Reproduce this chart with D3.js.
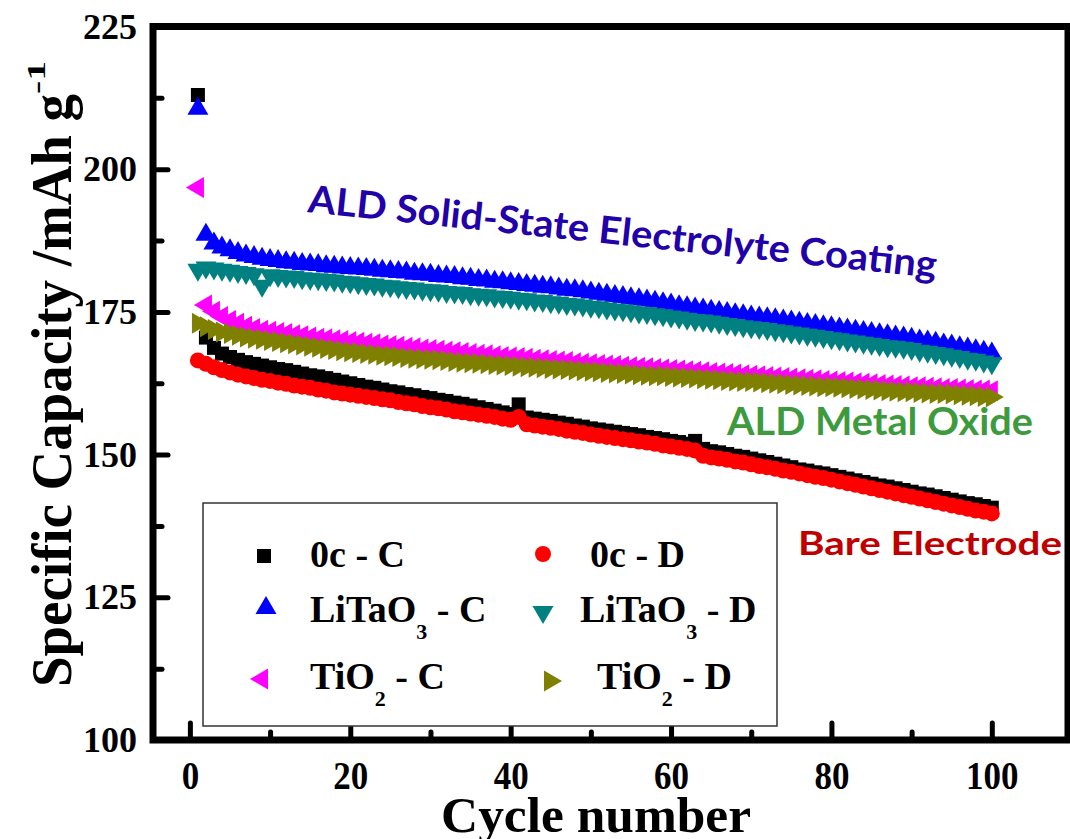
<!DOCTYPE html>
<html>
<head>
<meta charset="utf-8">
<script src="https://cdn.jsdelivr.net/npm/d3@7"></script>
<style>
    html, body { margin: 0; padding: 0; background: #fff; }
    svg { display: block; }
    .axis text { font-family: "Liberation Serif", "Times New Roman", serif; font-weight: bold; fill: #000; }
    .axis line { stroke: #000; stroke-width: 5; stroke-linecap: round; }
    .legend text, .title { font-family: "Liberation Serif", "Times New Roman", serif; font-weight: bold; fill: #000; }
    .note { font-family: Lato, "Open Sans", sans-serif; font-weight: bold; }
</style>
</head>
<body>
<svg id="chart" width="1070" height="839"></svg>
<script>
// cycle numbers and the six capacity series (mAh/g)
var cycles = d3.range(1, 101);

var bareC = [
    213.0, 170.5, 168.7, 167.7, 167.1, 166.6, 166.2, 165.9, 165.6, 165.3,
    165.0, 164.8, 164.5, 164.2, 163.9, 163.7, 163.4, 163.1, 162.8, 162.5,
    162.2, 161.9, 161.7, 161.4, 161.1, 160.9, 160.6, 160.4, 160.1, 159.9,
    159.6, 159.4, 159.1, 158.9, 158.6, 158.3, 158.0, 157.7, 157.4, 157.1,
    158.8, 156.5, 156.3, 156.1, 155.9, 155.6, 155.4, 155.1, 154.9, 154.6,
    154.4, 154.2, 154.0, 153.8, 153.6, 153.4, 153.1, 152.9, 152.7, 152.4,
    152.2, 151.9, 152.4, 151.0, 150.6, 150.4, 150.1, 149.8, 149.6, 149.3,
    149.0, 148.7, 148.4, 148.1, 147.8, 147.4, 147.2, 146.9, 146.7, 146.4,
    146.1, 145.8, 145.5, 145.2, 144.9, 144.6, 144.4, 144.1, 143.8, 143.5,
    143.2, 143.0, 142.7, 142.4, 142.1, 141.8, 141.5, 141.3, 141.0, 140.7
];
var bareD = [
    166.5, 165.9, 165.3, 164.8, 164.4, 164.0, 163.7, 163.4, 163.1, 162.9,
    162.6, 162.4, 162.1, 161.9, 161.7, 161.4, 161.2, 160.9, 160.7, 160.5,
    160.3, 160.1, 159.9, 159.7, 159.5, 159.2, 159.0, 158.8, 158.5, 158.3,
    158.1, 157.9, 157.6, 157.4, 157.2, 157.0, 156.8, 156.6, 156.3, 156.1,
    156.6, 155.3, 155.1, 154.9, 154.7, 154.5, 154.2, 154.0, 153.8, 153.5,
    153.3, 153.1, 152.9, 152.7, 152.5, 152.3, 152.1, 151.9, 151.6, 151.4,
    151.2, 151.0, 150.7, 149.8, 149.5, 149.3, 149.1, 148.8, 148.6, 148.3,
    148.0, 147.8, 147.5, 147.2, 147.0, 146.7, 146.4, 146.1, 145.9, 145.6,
    145.3, 145.0, 144.7, 144.4, 144.1, 143.8, 143.5, 143.2, 142.9, 142.6,
    142.3, 142.0, 141.7, 141.4, 141.1, 140.8, 140.5, 140.2, 140.0, 139.7
];
var litaoC = [
    210.6, 188.5, 187.0, 186.3, 185.8, 185.3, 184.9, 184.6, 184.3, 184.1,
    183.9, 183.7, 183.6, 183.4, 183.3, 183.2, 183.0, 182.9, 182.8, 182.7,
    182.6, 182.5, 182.4, 182.2, 182.1, 182.0, 181.9, 181.7, 181.6, 181.5,
    181.3, 181.2, 181.1, 180.9, 180.8, 180.6, 180.5, 180.3, 180.2, 180.0,
    179.9, 179.7, 179.6, 179.4, 179.3, 179.1, 178.9, 178.8, 178.6, 178.4,
    178.2, 178.0, 177.8, 177.6, 177.4, 177.2, 177.0, 176.8, 176.5, 176.3,
    176.0, 175.8, 175.6, 175.4, 175.2, 175.0, 174.8, 174.6, 174.4, 174.2,
    174.0, 173.9, 173.7, 173.5, 173.3, 173.1, 172.9, 172.7, 172.5, 172.3,
    172.1, 171.9, 171.7, 171.5, 171.3, 171.1, 170.9, 170.7, 170.5, 170.3,
    170.0, 169.8, 169.6, 169.3, 169.1, 168.8, 168.6, 168.3, 168.0, 167.7
];
var litaoD = [
    182.4, 182.8, 182.6, 182.4, 182.2, 182.0, 181.8, 181.6, 179.6, 181.4,
    181.3, 181.2, 181.1, 180.9, 180.8, 180.7, 180.6, 180.5, 180.3, 180.2,
    180.0, 179.9, 179.8, 179.6, 179.5, 179.3, 179.2, 179.1, 178.9, 178.8,
    178.7, 178.5, 178.4, 178.3, 178.1, 178.0, 177.9, 177.7, 177.6, 177.5,
    177.3, 177.2, 177.0, 176.9, 176.7, 176.6, 176.4, 176.3, 176.1, 175.9,
    175.8, 175.6, 175.4, 175.3, 175.1, 174.9, 174.8, 174.6, 174.4, 174.2,
    174.0, 173.8, 173.6, 173.5, 173.3, 173.1, 172.9, 172.7, 172.5, 172.3,
    172.2, 172.0, 171.8, 171.6, 171.4, 171.2, 171.0, 170.8, 170.6, 170.4,
    170.2, 170.0, 169.8, 169.6, 169.4, 169.2, 169.0, 168.9, 168.7, 168.5,
    168.2, 168.0, 167.8, 167.6, 167.3, 167.1, 166.8, 166.6, 166.3, 166.0
];
var tio2C = [
    196.8, 176.2, 175.1, 174.2, 173.5, 173.0, 172.5, 172.1, 171.8, 171.6,
    171.4, 171.2, 171.0, 170.8, 170.6, 170.4, 170.3, 170.1, 170.0, 169.8,
    169.7, 169.5, 169.4, 169.2, 169.1, 169.0, 168.8, 168.7, 168.5, 168.4,
    168.3, 168.1, 168.0, 167.9, 167.7, 167.6, 167.5, 167.3, 167.2, 167.1,
    167.0, 166.9, 166.7, 166.6, 166.5, 166.4, 166.3, 166.1, 166.0, 165.9,
    165.8, 165.7, 165.6, 165.5, 165.4, 165.3, 165.2, 165.1, 165.0, 164.9,
    164.8, 164.7, 164.6, 164.5, 164.4, 164.3, 164.2, 164.1, 164.0, 163.9,
    163.8, 163.7, 163.6, 163.5, 163.4, 163.3, 163.2, 163.1, 163.0, 162.9,
    162.8, 162.7, 162.6, 162.5, 162.4, 162.3, 162.2, 162.1, 162.0, 161.9,
    161.9, 161.8, 161.7, 161.6, 161.6, 161.5, 161.4, 161.3, 161.3, 161.2
];
var tio2D = [
    173.0, 172.4, 171.9, 171.5, 171.2, 170.9, 170.6, 170.4, 170.2, 170.0,
    169.8, 169.6, 169.4, 169.2, 169.0, 168.8, 168.6, 168.4, 168.2, 168.0,
    167.9, 167.7, 167.6, 167.4, 167.3, 167.2, 167.0, 166.9, 166.8, 166.7,
    166.6, 166.5, 166.3, 166.2, 166.1, 166.0, 165.9, 165.8, 165.7, 165.6,
    165.5, 165.4, 165.3, 165.2, 165.1, 165.0, 164.9, 164.8, 164.7, 164.6,
    164.5, 164.4, 164.3, 164.2, 164.1, 164.0, 163.9, 163.8, 163.8, 163.7,
    163.6, 163.5, 163.4, 163.3, 163.2, 163.1, 163.0, 162.9, 162.8, 162.8,
    162.7, 162.6, 162.5, 162.4, 162.3, 162.2, 162.1, 162.0, 161.9, 161.9,
    161.8, 161.7, 161.6, 161.5, 161.4, 161.3, 161.2, 161.1, 161.0, 161.0,
    160.9, 160.8, 160.7, 160.7, 160.6, 160.5, 160.4, 160.3, 160.2, 160.1
];

var xTicks = [0, 20, 40, 60, 80, 100];
var xMinorTicks = [10, 30, 50, 70, 90];
var yTicks = [100, 125, 150, 175, 200, 225];
var yMinorTicks = [112.5, 137.5, 162.5, 187.5, 212.5];

// legend labels: main text, subscript, rest
var seriesLabels = [
    ["0c", "", " - C"], ["0c", "", " - D"],
    ["LiTaO", "3", " - C"], ["LiTaO", "3", " - D"],
    ["TiO", "2", " - C"], ["TiO", "2", " - D"]
];

var series = [
    { values: bareC,  color: "#000000", marker: "square", label: seriesLabels[0] },
    { values: bareD,  color: "#ff0000", marker: "circle", label: seriesLabels[1] },
    { values: litaoC, color: "#0000ff", marker: "up",     label: seriesLabels[2] },
    { values: litaoD, color: "#008080", marker: "down",   label: seriesLabels[3] },
    { values: tio2C,  color: "#ff00ff", marker: "left",   label: seriesLabels[4] },
    { values: tio2D,  color: "#808000", marker: "right",  label: seriesLabels[5] }
];

var svg = d3.select("#chart");
// plot frame in pixels (note: "top" is a reserved window property)
var plotL = 153, plotR = 1068, plotT = 26.5, plotB = 740;

var x = d3.scaleLinear().domain([-4.6, 109.5]).range([plotL, plotR]);
var y = d3.scaleLinear().domain([100, 225]).range([plotB, plotT]);

function markerPath(type) {
    switch (type) {
        case "square": return "M-7,-7H7V7H-7Z";
        case "circle": return "M8,0A8,8 0 1,1 -8,0A8,8 0 1,1 8,0Z";
        case "up":     return "M0,-12L10.5,6L-10.5,6Z";
        case "down":   return "M0,12L10.5,-6L-10.5,-6Z";
        case "left":   return "M-12,0L6,-10.5L6,10.5Z";
        case "right":  return "M12,0L-6,-10.5L-6,10.5Z";
    }
}

// data markers, drawn in the same order as the original plot
series.forEach(function (s) {
    svg.append("g")
        .selectAll("path")
        .data(s.values)
        .enter().append("path")
        .attr("d", markerPath(s.marker))
        .attr("fill", s.color)
        .attr("transform", function (d, i) {
            return "translate(" + x(cycles[i]) + "," + y(d) + ")";
        });
});

// axes: ticks point inward
var xAxis = svg.append("g").attr("class", "axis")
    .attr("transform", "translate(0," + plotB + ")")
    .call(d3.axisBottom(x).tickValues(xTicks).tickSize(-17).tickFormat(d3.format("d")));
svg.append("g").attr("class", "axis")
    .attr("transform", "translate(0," + plotB + ")")
    .call(d3.axisBottom(x).tickValues(xMinorTicks).tickSize(-8).tickFormat(""));
xAxis.selectAll("text")
    .attr("y", 49).attr("dy", 0)
    .style("font-size", "41px")
    .attr("textLength", function (d) { return String(d).length * 17.5; })
    .attr("lengthAdjust", "spacingAndGlyphs");

var yAxis = svg.append("g").attr("class", "axis")
    .attr("transform", "translate(" + plotL + ",0)")
    .call(d3.axisLeft(y).tickValues(yTicks).tickSize(-15).tickPadding(16).tickFormat(d3.format("d")));
svg.append("g").attr("class", "axis")
    .attr("transform", "translate(" + plotL + ",0)")
    .call(d3.axisLeft(y).tickValues(yMinorTicks).tickSize(-9).tickFormat(""));
yAxis.selectAll("text").style("font-size", "36px");
svg.selectAll(".axis .domain").remove();

// frame
svg.append("rect")
    .attr("x", plotL).attr("y", plotT)
    .attr("width", plotR - plotL).attr("height", plotB - plotT)
    .attr("fill", "none").attr("stroke", "#000").attr("stroke-width", 7);

// axis titles
svg.append("text").attr("class", "title")
    .attr("x", 441).attr("y", 832)
    .attr("textLength", 310).attr("lengthAdjust", "spacingAndGlyphs")
    .style("font-size", "50px")
    .text("Cycle number");
svg.append("text").attr("class", "title")
    .attr("transform", "translate(71,687) rotate(-90)")
    .attr("textLength", 593).attr("lengthAdjust", "spacingAndGlyphs")
    .style("font-size", "58px")
    .text("Specific Capacity /mAh g");
svg.append("text").attr("class", "title")
    .attr("transform", "translate(45,94) rotate(-90)")
    .attr("textLength", 33).attr("lengthAdjust", "spacingAndGlyphs")
    .style("font-size", "26px")
    .text("-1");

// legend
var legend = svg.append("g").attr("class", "legend");
legend.append("rect")
    .attr("x", 203).attr("y", 503).attr("width", 574).attr("height", 223)
    .attr("fill", "#fff").attr("stroke", "#333").attr("stroke-width", 1.5);
var legendPos = [
    { mx: 264, my: 556, tx: 310, ty: 567 },
    { mx: 543, my: 554, tx: 590, ty: 567 },
    { mx: 266, my: 608, tx: 310, ty: 622 },
    { mx: 543, my: 612, tx: 580, ty: 622 },
    { mx: 262, my: 679, tx: 310, ty: 689 },
    { mx: 550, my: 681, tx: 597, ty: 689 }
];
series.forEach(function (s, i) {
    var p = legendPos[i];
    legend.append("path")
        .attr("d", markerPath(s.marker))
        .attr("fill", s.color)
        .attr("transform", "translate(" + p.mx + "," + p.my + ")");
    var t = legend.append("text")
        .attr("x", p.tx).attr("y", p.ty)
        .style("font-size", "38px");
    t.append("tspan").text(s.label[0]);
    if (s.label[1]) {
        t.append("tspan").attr("dy", 17).style("font-size", "22px").text(s.label[1]);
        t.append("tspan").attr("dy", -17).text(s.label[2]);
    } else {
        t.append("tspan").text(s.label[2]);
    }
});

// coloured annotations
var notes = [
    { text: "ALD Solid-State Electrolyte Coating", x: 307, y: 212, angle: 6, len: 632, size: 38, color: "#2200aa" },
    { text: "ALD Metal Oxide", x: 727, y: 435, angle: 0, len: 306, size: 38, color: "#3d9b3d" },
    { text: "Bare Electrode", x: 798, y: 555, angle: 0, len: 264, size: 32, color: "#c00000" }
];
notes.forEach(function (n) {
    svg.append("text").attr("class", "note")
        .attr("transform", "translate(" + n.x + "," + n.y + ") rotate(" + n.angle + ")")
        .attr("textLength", n.len).attr("lengthAdjust", "spacingAndGlyphs")
        .style("font-size", n.size + "px")
        .attr("fill", n.color)
        .text(n.text);
});
</script>
</body>
</html>
